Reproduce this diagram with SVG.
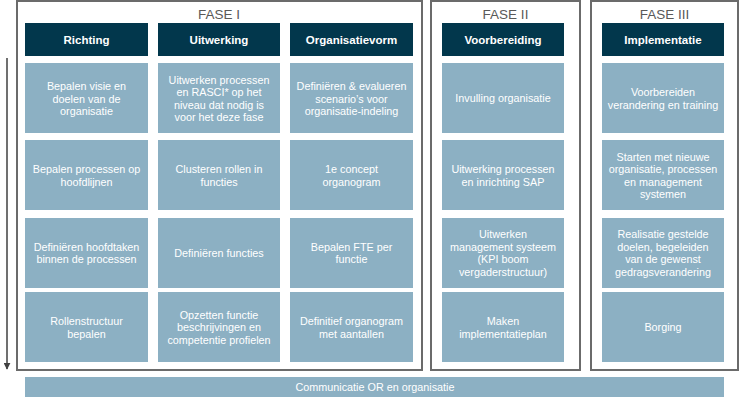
<svg xmlns="http://www.w3.org/2000/svg" width="740" height="400" viewBox="0 0 740 400">
<style>
.frame{fill:#fff;stroke:#6b6b6b;stroke-width:2}
.fase{font-family:"Liberation Sans",Arial,sans-serif;font-size:13.5px;fill:#595959;text-anchor:middle}
.hdr{fill:#02374c}
.hdrt{font-family:"Liberation Sans",Arial,sans-serif;font-size:11.5px;font-weight:bold;fill:#fff;text-anchor:middle}
.box{fill:#8cb0c3}
.bt{font-family:"Liberation Sans",Arial,sans-serif;font-size:10.8px;fill:#fff;text-anchor:middle}
</style>
<defs>
<marker id="ah" viewBox="0 0 10 10" refX="9" refY="5" markerWidth="7" markerHeight="7" orient="auto" markerUnits="userSpaceOnUse">
<path d="M0,0 L10,5 L0,10 z" fill="#404040"/>
</marker>
</defs>
<g id="frames">
<rect id="fase1-frame" class="frame" x="17" y="1" width="405" height="369"/>
<rect id="fase2-frame" class="frame" x="431" y="1" width="149" height="369"/>
<rect id="fase3-frame" class="frame" x="591" y="1" width="147" height="369"/>
<text class="fase" x="219" y="19">FASE I</text>
<text class="fase" x="505.5" y="19">FASE II</text>
<text class="fase" x="664.5" y="19">FASE III</text>
</g>
<g id="connectors">
<line x1="7" y1="58" x2="7" y2="369" stroke="#404040" stroke-width="1.5" marker-end="url(#ah)"/>
</g>
<g id="h1"><rect class="hdr" x="25" y="23" width="123" height="33"/><text class="hdrt" x="86.5" y="44">Richting</text></g>
<g id="h2"><rect class="hdr" x="158" y="23" width="122" height="33"/><text class="hdrt" x="219" y="44">Uitwerking</text></g>
<g id="h3"><rect class="hdr" x="290" y="23" width="123" height="33"/><text class="hdrt" x="351.5" y="44">Organisatievorm</text></g>
<g id="h4"><rect class="hdr" x="442" y="23" width="122" height="33"/><text class="hdrt" x="503" y="44">Voorbereiding</text></g>
<g id="h5"><rect class="hdr" x="602" y="23" width="122" height="33"/><text class="hdrt" x="663" y="44">Implementatie</text></g>

<g id="c1r1"><rect class="box" x="25" y="63" width="123" height="70"/><text class="bt" x="86.5" y="90"><tspan x="86.5">Bepalen visie en</tspan><tspan x="86.5" dy="12.5">doelen van de</tspan><tspan x="86.5" dy="12.5">organisatie</tspan></text></g>
<g id="c2r1"><rect class="box" x="158" y="63" width="122" height="70"/><text class="bt" x="219" y="83.5"><tspan x="219">Uitwerken processen</tspan><tspan x="219" dy="12.5">en RASCI* op het</tspan><tspan x="219" dy="12.5">niveau dat nodig is</tspan><tspan x="219" dy="12.5">voor het deze fase</tspan></text></g>
<g id="c3r1"><rect class="box" x="290" y="63" width="123" height="70"/><text class="bt" x="351.5" y="90"><tspan x="351.5">Definiëren &amp; evalueren</tspan><tspan x="351.5" dy="12.5">scenario’s voor</tspan><tspan x="351.5" dy="12.5">organisatie-indeling</tspan></text></g>
<g id="c4r1"><rect class="box" x="442" y="63" width="122" height="70"/><text class="bt" x="503" y="102">Invulling organisatie</text></g>
<g id="c5r1"><rect class="box" x="602" y="63" width="122" height="70"/><text class="bt" x="663" y="96"><tspan x="663">Voorbereiden</tspan><tspan x="663" dy="12.5">verandering en training</tspan></text></g>

<g id="c1r2"><rect class="box" x="25" y="140" width="123" height="70"/><text class="bt" x="86.5" y="173"><tspan x="86.5">Bepalen processen op</tspan><tspan x="86.5" dy="12.5">hoofdlijnen</tspan></text></g>
<g id="c2r2"><rect class="box" x="158" y="140" width="122" height="70"/><text class="bt" x="219" y="173"><tspan x="219">Clusteren rollen in</tspan><tspan x="219" dy="12.5">functies</tspan></text></g>
<g id="c3r2"><rect class="box" x="290" y="140" width="123" height="70"/><text class="bt" x="351.5" y="173"><tspan x="351.5">1e concept</tspan><tspan x="351.5" dy="12.5">organogram</tspan></text></g>
<g id="c4r2"><rect class="box" x="442" y="140" width="122" height="70"/><text class="bt" x="503" y="173"><tspan x="503">Uitwerking processen</tspan><tspan x="503" dy="12.5">en inrichting SAP</tspan></text></g>
<g id="c5r2"><rect class="box" x="602" y="140" width="122" height="70"/><text class="bt" x="663" y="160.5"><tspan x="663">Starten met nieuwe</tspan><tspan x="663" dy="12.5">organisatie, processen</tspan><tspan x="663" dy="12.5">en management</tspan><tspan x="663" dy="12.5">systemen</tspan></text></g>

<g id="c1r3"><rect class="box" x="25" y="218" width="123" height="70"/><text class="bt" x="86.5" y="250.5"><tspan x="86.5">Definiëren hoofdtaken</tspan><tspan x="86.5" dy="12.5">binnen de processen</tspan></text></g>
<g id="c2r3"><rect class="box" x="158" y="218" width="122" height="70"/><text class="bt" x="219" y="257">Definiëren functies</text></g>
<g id="c3r3"><rect class="box" x="290" y="218" width="123" height="70"/><text class="bt" x="351.5" y="250.5"><tspan x="351.5">Bepalen FTE per</tspan><tspan x="351.5" dy="12.5">functie</tspan></text></g>
<g id="c4r3"><rect class="box" x="442" y="218" width="122" height="70"/><text class="bt" x="503" y="238"><tspan x="503">Uitwerken</tspan><tspan x="503" dy="12.5">management systeem</tspan><tspan x="503" dy="12.5">(KPI boom</tspan><tspan x="503" dy="12.5">vergaderstructuur)</tspan></text></g>
<g id="c5r3"><rect class="box" x="602" y="218" width="122" height="70"/><text class="bt" x="663" y="238"><tspan x="663">Realisatie gestelde</tspan><tspan x="663" dy="12.5">doelen, begeleiden</tspan><tspan x="663" dy="12.5">van de gewenst</tspan><tspan x="663" dy="12.5">gedragsverandering</tspan></text></g>

<g id="c1r4"><rect class="box" x="25" y="292" width="123" height="70"/><text class="bt" x="86.5" y="325"><tspan x="86.5">Rollenstructuur</tspan><tspan x="86.5" dy="12.5">bepalen</tspan></text></g>
<g id="c2r4"><rect class="box" x="158" y="292" width="122" height="70"/><text class="bt" x="219" y="318.5"><tspan x="219">Opzetten functie</tspan><tspan x="219" dy="12.5">beschrijvingen en</tspan><tspan x="219" dy="12.5">competentie profielen</tspan></text></g>
<g id="c3r4"><rect class="box" x="290" y="292" width="123" height="70"/><text class="bt" x="351.5" y="325"><tspan x="351.5">Definitief organogram</tspan><tspan x="351.5" dy="12.5">met aantallen</tspan></text></g>
<g id="c4r4"><rect class="box" x="442" y="292" width="122" height="70"/><text class="bt" x="503" y="325"><tspan x="503">Maken</tspan><tspan x="503" dy="12.5">implementatieplan</tspan></text></g>
<g id="c5r4"><rect class="box" x="602" y="292" width="122" height="70"/><text class="bt" x="663" y="331">Borging</text></g>

<g id="comm"><rect class="box" x="25" y="377" width="699" height="20"/><text class="bt" x="375" y="391">Communicatie OR en organisatie</text></g>
</svg>
